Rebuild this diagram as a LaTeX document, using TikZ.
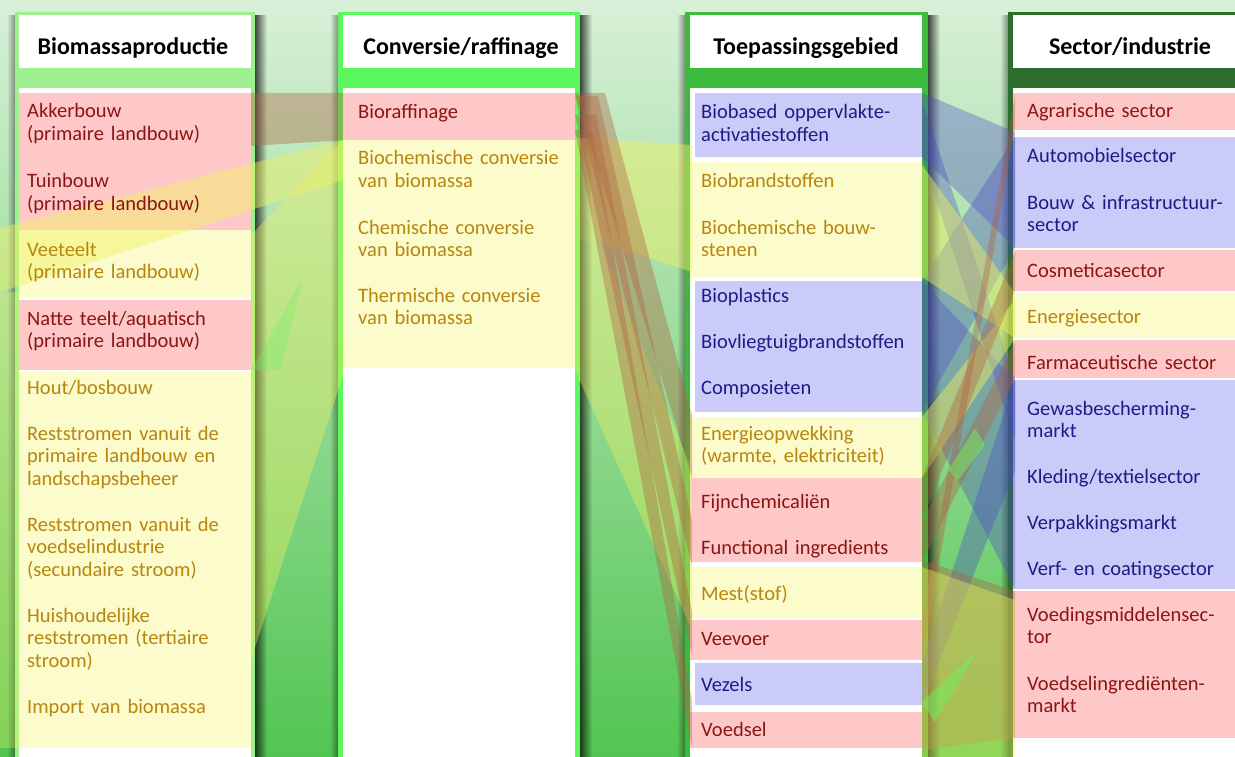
\documentclass[tikz,border=0pt]{standalone}
\usepackage{fontspec}
\setmainfont{Carlito}
\usetikzlibrary{fadings}

\definecolor{bgtop}{HTML}{D8F0D8}
\definecolor{bgmid}{HTML}{94DC90}
\definecolor{bgbot}{HTML}{52C552}
\definecolor{colA}{HTML}{9EF08E}
\definecolor{colB}{HTML}{5CF75C}
\definecolor{colC}{HTML}{3DBB3D}
\definecolor{colD}{HTML}{2D6D2D}
\definecolor{bandred}{HTML}{FFC8C8}
\definecolor{bandyel}{HTML}{FBFBCB}
\definecolor{bandblu}{HTML}{CBCBFA}
\definecolor{redtext}{HTML}{8B1515}
\definecolor{yeltext}{HTML}{B8860F}
\definecolor{blutext}{HTML}{1C1C85}
\definecolor{flowred}{HTML}{B06040}
\definecolor{flowyel}{HTML}{F0F060}
\definecolor{flowblu}{HTML}{4A4AC8}
\definecolor{flowgrn}{HTML}{70F060}

\begin{document}
\begin{tikzpicture}[x=1pt,y=-1pt,
    hdr/.style={font=\fontsize{24}{28}\selectfont\bfseries,anchor=base,inner sep=0pt},
    item/.style={anchor=base west,inner sep=0pt,align=left,text width=210pt,
      font=\fontsize{20.5}{22.8}\selectfont},
    redtxt/.style={item,text=redtext},
    yeltxt/.style={item,text=yeltext},
    blutxt/.style={item,text=blutext},
    redflow/.style={fill=flowred,opacity=.38},
    yelflow/.style={fill=flowyel,opacity=.45},
    bluflow/.style={fill=flowblu,opacity=.35},
    grnflow/.style={fill=flowgrn,opacity=.5}
]
\useasboundingbox (0,0) rectangle (1235,757);

% background
\shade[top color=bgtop, middle color=bgmid, bottom color=bgbot] (0,0) rectangle (1235,757);

% shadows of the columns
\foreach \l/\r in {15/255, 338/580, 685/928, 1008/1240} {
  \fill[black,opacity=.7,path fading=east] (\r,14) rectangle (\r+12,757);
  \fill[black,opacity=.4,path fading=west] (\l-8,14) rectangle (\l,757);
}

% column frames
\fill[colA] (15,12) rectangle (255,757);
\fill[white] (19,15) rectangle (251,68);
\fill[white] (19,88) rectangle (251,757);
\fill[colB] (338,12) rectangle (580,757);
\fill[white] (343,15) rectangle (575,68);
\fill[white] (343,88) rectangle (575,757);
\fill[colC] (685,12) rectangle (928,757);
\fill[white] (690,15) rectangle (922,68);
\fill[white] (690,88) rectangle (922,757);
\fill[colD] (1008,12) rectangle (1240,757);
\fill[white] (1013,15) rectangle (1240,68);
\fill[white] (1013,88) rectangle (1240,757);

% bands
\fill[bandred] (19,93) rectangle (251,230);
\fill[bandyel] (19,230) rectangle (251,297);
\fill[bandred] (19,300) rectangle (251,370);
\fill[bandyel] (19,372) rectangle (251,748);
\fill[bandred] (343,93) rectangle (575,140);
\fill[bandyel] (343,140) rectangle (575,368);
\fill[bandblu] (695,93) rectangle (922,157);
\fill[bandyel] (690,162) rectangle (922,277);
\fill[bandblu] (695,281) rectangle (922,412);
\fill[bandyel] (690,417) rectangle (922,478);
\fill[bandred] (690,478) rectangle (922,562);
\fill[bandyel] (690,567) rectangle (922,618);
\fill[bandred] (690,620) rectangle (922,660);
\fill[bandblu] (695,663) rectangle (922,705);
\fill[bandred] (690,712) rectangle (922,748);
\fill[bandred] (1013,93) rectangle (1240,130);
\fill[bandblu] (1013,137) rectangle (1240,248);
\fill[bandred] (1013,250) rectangle (1240,291);
\fill[bandyel] (1013,293) rectangle (1240,338);
\fill[bandred] (1013,340) rectangle (1240,378);
\fill[bandblu] (1013,380) rectangle (1240,589);
\fill[bandred] (1013,591) rectangle (1240,738);

% flows: production -> conversion
\fill[redflow] (251,93) -- (343,93) -- (343,140) -- (251,146) -- cycle;
\fill[yelflow] (0,228) -- (343,140) -- (343,180) -- (0,292) -- cycle;
\fill[yelflow,opacity=.38] (251,235) -- (343,140) -- (343,375) -- (251,660) -- cycle;
\fill[grnflow,opacity=.3] (251,370) -- (303,278) -- (280,370) -- cycle;
\fill[yelflow,opacity=.3] (0,292) -- (19,292) -- (19,748) -- (0,748) -- cycle;

% flows: conversion -> application
\fill[yelflow] (575,138) -- (692,145) -- (692,272) -- (600,242) -- (575,240) -- cycle;
\fill[yelflow,opacity=.38] (575,240) -- (600,242) -- (692,470) -- (692,630) -- (575,370) -- cycle;
\fill[redflow] (575,93) -- (605,93) -- (692,415) -- (692,478) -- cycle;
\fill[redflow] (575,96) -- (598,96) -- (692,520) -- (692,565) -- cycle;
\fill[redflow] (575,115) -- (596,115) -- (692,612) -- (692,655) -- cycle;
\fill[redflow] (575,130) -- (592,130) -- (692,700) -- (692,748) -- cycle;

% flows: application -> sector
\fill[bluflow] (922,93) -- (1015,132) -- (1015,248) -- (922,157) -- cycle;
\fill[bluflow] (922,100) -- (1015,380) -- (1015,440) -- (922,157) -- cycle;
\fill[bluflow] (922,281) -- (1015,137) -- (1015,248) -- (922,412) -- cycle;
\fill[bluflow] (922,281) -- (1015,380) -- (1015,589) -- (922,412) -- cycle;
\fill[bluflow] (922,663) -- (1015,380) -- (1015,470) -- (922,705) -- cycle;
\fill[yelflow] (922,165) -- (1015,293) -- (1015,338) -- (922,277) -- cycle;
\fill[yelflow] (922,417) -- (1015,300) -- (1015,338) -- (922,478) -- cycle;
\fill[redflow] (922,478) -- (1015,252) -- (1015,290) -- (922,520) -- cycle;
\fill[redflow] (922,522) -- (1015,342) -- (1015,378) -- (922,562) -- cycle;
\fill[redflow] (922,620) -- (1015,95) -- (1015,128) -- (922,660) -- cycle;
\fill[redflow] (922,560) -- (1015,591) -- (1015,738) -- (922,750) -- cycle;
\fill[yelflow,opacity=.4] (922,567) -- (1015,600) -- (1015,757) -- (922,757) -- cycle;
\fill[grnflow] (922,702) -- (978,650) -- (935,722) -- cycle;
\fill[grnflow] (948,470) -- (975,428) -- (985,445) -- (958,480) -- cycle;

% headers
\node[hdr] (h1) at (133,55) {Biomassaproductie};
\node[hdr] (h2) at (461,55) {Conversie/raffinage};
\node[hdr] (h3) at (806,55) {Toepassingsgebied};
\node[hdr] (h4) at (1130,55) {Sector/industrie};

% Biomassaproductie
\node[redtxt] (bp1) at (27,118) {Akkerbouw\\(primaire landbouw)};
\node[redtxt] (bp2) at (27,188) {Tuinbouw\\(primaire landbouw)};
\node[yeltxt] (bp3) at (27,256) {Veeteelt\\(primaire landbouw)};
\node[redtxt] (bp4) at (27,325) {Natte teelt/aquatisch\\(primaire landbouw)};
\node[yeltxt] (bp5) at (27,394) {Hout/bosbouw};
\node[yeltxt] (bp6) at (27,440) {Reststromen vanuit de\\primaire landbouw en\\landschapsbeheer};
\node[yeltxt] (bp7) at (27,531) {Reststromen vanuit de\\voedselindustrie\\(secundaire stroom)};
\node[yeltxt] (bp8) at (27,622) {Huishoudelijke\\reststromen (tertiaire\\stroom)};
\node[yeltxt] (bp9) at (27,713) {Import van biomassa};

% Conversie/raffinage
\node[redtxt] (cr1) at (358,119) {Bioraffinage};
\node[yeltxt] (cr2) at (358,165) {Biochemische conversie\\van biomassa};
\node[yeltxt] (cr3) at (358,234) {Chemische conversie\\van biomassa};
\node[yeltxt] (cr4) at (358,302) {Thermische conversie\\van biomassa};

% Toepassingsgebied
\node[blutxt] (tg1) at (701,119) {Biobased oppervlakte-\\activatiestoffen};
\node[yeltxt] (tg2) at (701,188) {Biobrandstoffen};
\node[yeltxt] (tg3) at (701,234) {Biochemische bouw-\\stenen};
\node[blutxt] (tg4) at (701,302) {Bioplastics};
\node[blutxt] (tg5) at (701,348) {Biovliegtuigbrandstoffen};
\node[blutxt] (tg6) at (701,394) {Composieten};
\node[yeltxt] (tg7) at (701,440) {Energieopwekking\\(warmte, elektriciteit)};
\node[redtxt] (tg8) at (701,508) {Fijnchemicaliën};
\node[redtxt] (tg9) at (701,554) {Functional ingredients};
\node[yeltxt] (tg10) at (701,600) {Mest(stof)};
\node[redtxt] (tg11) at (701,645) {Veevoer};
\node[blutxt] (tg12) at (701,691) {Vezels};
\node[redtxt] (tg13) at (701,736) {Voedsel};

% Sector/industrie
\node[redtxt] (si1) at (1027,118) {Agrarische sector};
\node[blutxt] (si2) at (1027,163) {Automobielsector};
\node[blutxt] (si3) at (1027,209) {Bouw \& infrastructuur-\\sector};
\node[redtxt] (si4) at (1027,277) {Cosmeticasector};
\node[yeltxt] (si5) at (1027,323) {Energiesector};
\node[redtxt] (si6) at (1027,369) {Farmaceutische sector};
\node[blutxt] (si7) at (1027,415) {Gewasbescherming-\\markt};
\node[blutxt] (si8) at (1027,483) {Kleding/textielsector};
\node[blutxt] (si9) at (1027,529) {Verpakkingsmarkt};
\node[blutxt] (si10) at (1027,575) {Verf- en coatingsector};
\node[redtxt] (si11) at (1027,621) {Voedingsmiddelensec-\\tor};
\node[redtxt] (si12) at (1027,690) {Voedselingrediënten-\\markt};
\end{tikzpicture}
\end{document}
